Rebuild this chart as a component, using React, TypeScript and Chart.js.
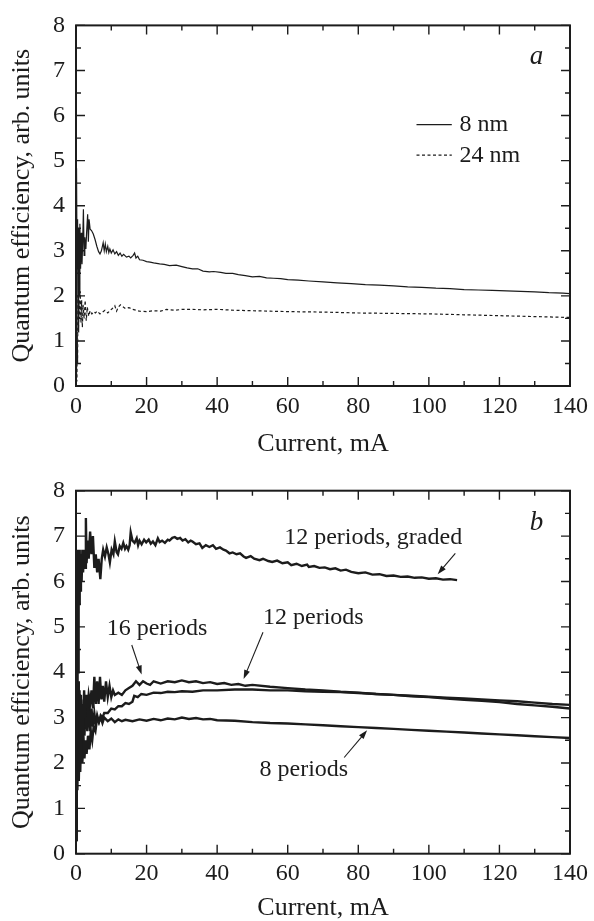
import React, { useEffect, useRef } from "react";
import { Chart, registerables } from "chart.js";

Chart.register(...registerables);

const FONT = "'Liberation Serif', 'Times New Roman', serif";
const INK = "#1c1c1c";

// ---------- axis ticks ----------
const xMajorTicks = [0, 20, 40, 60, 80, 100, 120, 140];
const xMinorTicks = [10, 30, 50, 70, 90, 110, 130];
const yMajorTicks = [0, 1, 2, 3, 4, 5, 6, 7, 8];
const yMinorTicks = [0.5, 1.5, 2.5, 3.5, 4.5, 5.5, 6.5, 7.5];

// ---------- panel a : [current mA, efficiency] ----------
const panelA8nm: [number, number][] = [
  [0, 0.2], [0.1, 2.5], [0.2, 4.83], [0.3, 2.6], [0.45, 3.7], [0.6, 1.2], [0.75, 3.5], [0.9, 2.0],
  [1.1, 3.6], [1.3, 2.6], [1.5, 3.4], [1.7, 2.7], [1.9, 3.2], [2.1, 3.92], [2.3, 2.9], [2.5, 3.3],
  [2.8, 3.04], [3.0, 3.4], [3.3, 3.81], [3.5, 3.2], [3.7, 3.7], [4.0, 3.48], [4.4, 3.45], [4.9, 3.37],
  [5.4, 3.25], [5.9, 3.1], [6.4, 2.98], [6.8, 2.93], [7.2, 3.0], [7.7, 3.18], [8.0, 3.0], [8.3, 3.15],
  [8.6, 2.98], [9.0, 3.1], [9.3, 2.96], [9.6, 3.04], [10, 2.95], [10.5, 3.02], [11, 2.93], [11.5, 2.98],
  [12, 2.9], [12.5, 2.95], [13, 2.88], [13.5, 2.92], [14.3, 2.86], [15, 2.88], [15.5, 2.84], [16.2, 2.9],
  [16.6, 2.95], [17, 2.84], [17.5, 2.88], [18, 2.8], [19, 2.79], [20, 2.76], [21, 2.75], [22, 2.73],
  [23.7, 2.71], [25, 2.7], [26.5, 2.67], [28.4, 2.68], [30, 2.65], [31.5, 2.62], [33, 2.6], [34.5, 2.6],
  [36, 2.55], [37.8, 2.53], [39, 2.54], [41, 2.52], [42.5, 2.5], [44.4, 2.5], [46, 2.47], [48, 2.45],
  [50, 2.42], [52, 2.43], [54, 2.4], [56, 2.39], [58, 2.38], [60, 2.36], [63, 2.35], [66, 2.33],
  [70, 2.31], [74, 2.29], [78, 2.27], [82, 2.25], [86, 2.24], [90, 2.22], [94, 2.2], [98, 2.19],
  [102, 2.17], [106, 2.16], [110, 2.14], [114, 2.13], [118, 2.12], [122, 2.11], [126, 2.1], [130, 2.09],
  [134, 2.07], [138, 2.06], [140, 2.05],
];

const panelA24nm: [number, number][] = [
  [0, 0], [0.15, 0.8], [0.25, 0.1], [0.35, 1.2], [0.45, 0.5], [0.55, 2.0], [0.7, 1.3], [0.85, 1.9],
  [1.0, 1.5], [1.2, 2.1], [1.4, 1.4], [1.6, 1.9], [1.8, 1.3], [2.0, 1.8], [2.3, 1.5], [2.6, 1.9],
  [2.9, 1.45], [3.2, 1.75], [3.6, 1.55], [4.0, 1.67], [4.5, 1.6], [5, 1.65], [5.5, 1.62], [6, 1.66],
  [6.8, 1.6], [7.5, 1.64], [8.2, 1.68], [9, 1.62], [9.6, 1.67], [10.3, 1.72], [11, 1.78], [11.5, 1.66],
  [12, 1.75], [12.6, 1.8], [13.3, 1.76], [14, 1.72], [15, 1.74], [16, 1.7], [17, 1.68], [18, 1.66],
  [20, 1.65], [22, 1.67], [24, 1.66], [25.6, 1.7], [28, 1.68], [30, 1.7], [33, 1.7], [36, 1.69],
  [40, 1.7], [45, 1.68], [50, 1.67], [55, 1.66], [60, 1.65], [70, 1.64], [80, 1.62], [90, 1.61],
  [100, 1.6], [110, 1.58], [120, 1.56], [130, 1.54], [140, 1.52],
];

// ---------- panel b ----------
const panelBGraded: [number, number][] = [
  [0, 0.3], [0.15, 6.7], [0.3, 2.5], [0.45, 6.6], [0.6, 4.0], [0.75, 6.7], [0.9, 5.5], [1.05, 6.7],
  [1.2, 5.8], [1.4, 6.6], [1.6, 6.0], [1.8, 6.7], [2.0, 6.2], [2.3, 6.7], [2.6, 6.3], [2.8, 7.4],
  [3.0, 6.4], [3.3, 6.9], [3.6, 6.5], [4.0, 7.1], [4.4, 6.6], [4.8, 7.0], [5.2, 6.3], [5.6, 6.6],
  [6.0, 6.2], [6.4, 6.5], [6.9, 6.05], [7.3, 6.5], [7.7, 6.7], [8.2, 6.55], [8.7, 6.75], [9.2, 6.6],
  [9.6, 6.42], [10.1, 6.7], [10.6, 6.6], [11, 6.88], [11.5, 6.65], [11.9, 6.6], [12.4, 6.78], [12.9, 6.72],
  [13.4, 6.85], [13.9, 6.72], [14.3, 6.78], [14.8, 6.7], [15.2, 6.8], [15.5, 7.08], [16, 6.9], [16.6, 6.85],
  [17.2, 6.95], [17.6, 6.8], [18, 6.9], [18.6, 6.82], [19.3, 6.92], [19.9, 6.86], [20.6, 6.92], [21.2, 6.83],
  [21.8, 6.88], [22.5, 6.8], [23.2, 6.95], [23.7, 6.87], [24.4, 6.9], [25.2, 6.85], [26, 6.92], [26.5, 6.9],
  [27.3, 6.96], [28, 6.98], [28.7, 6.94], [29.5, 6.96], [30.2, 6.9], [31, 6.93], [31.8, 6.86], [32.5, 6.9],
  [33, 6.88], [34, 6.82], [35, 6.84], [35.8, 6.74], [36.8, 6.8], [37.8, 6.76], [38.8, 6.8], [39.7, 6.72],
  [40.8, 6.75], [41.8, 6.7], [42.5, 6.68], [43.5, 6.62], [44.4, 6.64], [45.5, 6.6], [46.5, 6.62], [47.5, 6.55],
  [48.2, 6.52], [49.5, 6.56], [50.5, 6.5], [52, 6.47], [53, 6.5], [54.5, 6.45], [55.6, 6.43], [57, 6.46],
  [58.5, 6.4], [60, 6.42], [61, 6.36], [62.5, 6.39], [64, 6.34], [65.5, 6.37], [66, 6.32], [67.5, 6.34],
  [69, 6.3], [70.5, 6.31], [72, 6.27], [73.5, 6.29], [75, 6.24], [76.5, 6.26], [78, 6.21], [80, 6.18],
  [82, 6.2], [84, 6.15], [86, 6.16], [88, 6.12], [90, 6.13], [92, 6.1], [94, 6.11], [96, 6.08],
  [98, 6.09], [100, 6.06], [102, 6.07], [104, 6.04], [106, 6.05], [108, 6.03],
];

const panelB16: [number, number][] = [
  [0, 1.5], [0.2, 3.2], [0.4, 2.0], [0.6, 3.6], [0.8, 2.4], [1.0, 3.4], [1.2, 2.2], [1.4, 3.5],
  [1.6, 2.5], [1.8, 3.3], [2.0, 2.6], [2.3, 3.6], [2.6, 3.0], [3.0, 3.5], [3.3, 3.2], [3.6, 3.5],
  [4.0, 3.3], [4.4, 3.6], [4.8, 3.2], [5.2, 3.9], [5.6, 3.3], [6.0, 3.8], [6.4, 3.3], [6.8, 3.9],
  [7.2, 3.4], [7.6, 3.7], [8.0, 3.35], [8.5, 3.8], [9.0, 3.45], [9.5, 3.7], [10, 3.45], [10.5, 3.6],
  [11, 3.5], [12, 3.55], [13, 3.5], [14, 3.6], [15, 3.65], [16, 3.7], [17, 3.8], [18, 3.72],
  [19, 3.8], [20, 3.75], [21, 3.72], [22, 3.8], [24, 3.75], [26, 3.8], [28, 3.78], [30, 3.82],
  [32, 3.78], [34, 3.8], [36, 3.76], [38, 3.78], [40, 3.74], [42, 3.76], [44, 3.72], [46, 3.74],
  [48, 3.7], [50, 3.72], [55, 3.68], [60, 3.65], [65, 3.62], [70, 3.6], [75, 3.57], [80, 3.55],
  [85, 3.52], [90, 3.5], [95, 3.47], [100, 3.45], [105, 3.42], [110, 3.39], [115, 3.37], [120, 3.34],
  [125, 3.3], [130, 3.27], [135, 3.24], [140, 3.2],
];

const panelB12: [number, number][] = [
  [0, 0.5], [0.2, 2.8], [0.4, 1.4], [0.6, 3.0], [0.8, 1.6], [1.0, 2.6], [1.2, 1.8], [1.5, 2.8],
  [1.8, 2.0], [2.1, 2.6], [2.4, 2.1], [2.7, 2.5], [3.0, 2.2], [3.4, 2.6], [3.8, 2.3], [4.2, 2.7],
  [4.6, 2.5], [5.0, 2.8], [5.5, 2.7], [6.0, 3.0], [6.5, 2.9], [7.0, 3.05], [7.5, 3.0], [8, 3.1],
  [9, 3.1], [10, 3.2], [11, 3.18], [12, 3.25], [13, 3.25], [14, 3.32], [15, 3.3], [16, 3.35],
  [16.5, 3.48], [17.5, 3.45], [18.5, 3.52], [20, 3.5], [22, 3.55], [24, 3.54], [26, 3.57], [28, 3.56],
  [30, 3.58], [33, 3.57], [36, 3.6], [40, 3.6], [45, 3.62], [50, 3.62], [55, 3.6], [60, 3.6],
  [65, 3.58], [70, 3.57], [75, 3.56], [80, 3.54], [85, 3.52], [90, 3.5], [95, 3.48], [100, 3.46],
  [105, 3.44], [110, 3.42], [115, 3.4], [120, 3.38], [125, 3.36], [130, 3.33], [135, 3.3], [140, 3.28],
];

const panelB8: [number, number][] = [
  [0, 0.3], [0.2, 3.5], [0.4, 1.8], [0.6, 3.8], [0.8, 2.2], [1.0, 3.6], [1.2, 2.0], [1.5, 3.4],
  [1.8, 2.4], [2.1, 3.2], [2.4, 2.6], [2.8, 3.4], [3.2, 2.7], [3.6, 3.3], [4.0, 2.7], [4.4, 3.2],
  [4.8, 2.8], [5.2, 3.1], [5.6, 2.85], [6.0, 3.05], [6.5, 2.9], [7, 3.0], [7.5, 2.88], [8, 3.0],
  [9, 2.92], [10, 2.98], [11, 2.9], [12, 2.96], [13, 2.92], [14, 2.95], [16, 2.92], [18, 2.96],
  [20, 2.93], [22, 2.97], [24, 2.94], [26, 2.98], [28, 2.96], [30, 3.0], [32, 2.97], [34, 2.99],
  [36, 2.96], [38, 2.97], [40, 2.94], [45, 2.93], [50, 2.9], [55, 2.88], [60, 2.87], [65, 2.85],
  [70, 2.83], [75, 2.81], [80, 2.79], [85, 2.77], [90, 2.75], [95, 2.73], [100, 2.71], [105, 2.69],
  [110, 2.67], [115, 2.65], [120, 2.63], [125, 2.61], [130, 2.59], [135, 2.57], [140, 2.55],
];

// ---------- labels ----------
const xTitle = "Current, mA";
const yTitle = "Quantum efficiency, arb.\u2009units";
const legendLabels = ["8 nm", "24 nm"];

type Note = { text: string; x: number; y: number; from?: [number, number]; to?: [number, number] };
const panelBNotes: Note[] = [
  { text: "12 periods, graded", x: 59, y: 6.97, from: [107.5, 6.62], to: [102.5, 6.16] },
  { text: "16 periods", x: 8.7, y: 4.95, from: [15.8, 4.6], to: [18.6, 3.95] },
  { text: "12 periods", x: 53, y: 5.2, from: [53, 4.88], to: [47.5, 3.85] },
  { text: "8 periods", x: 52, y: 1.85, from: [76, 2.12], to: [82.5, 2.72] },
];

function drawArrow(ctx: CanvasRenderingContext2D, x1: number, y1: number, x2: number, y2: number) {
  const ang = Math.atan2(y2 - y1, x2 - x1);
  const len = 9, half = 3;
  ctx.beginPath();
  ctx.moveTo(x1, y1);
  ctx.lineTo(x2 - Math.cos(ang) * len * 0.8, y2 - Math.sin(ang) * len * 0.8);
  ctx.stroke();
  ctx.beginPath();
  ctx.moveTo(x2, y2);
  ctx.lineTo(x2 - Math.cos(ang) * len - Math.sin(ang) * half, y2 - Math.sin(ang) * len + Math.cos(ang) * half);
  ctx.lineTo(x2 - Math.cos(ang) * len + Math.sin(ang) * half, y2 - Math.sin(ang) * len - Math.cos(ang) * half);
  ctx.closePath();
  ctx.fill();
}

const frameTicksPlugin = {
  id: "frameTicks",
  afterDatasetsDraw(chart: any) {
    const { ctx, chartArea: a, scales } = chart;
    const xs = scales.x, ys = scales.y;
    ctx.save();
    ctx.strokeStyle = INK;
    ctx.lineWidth = 1.4;
    const vt = (v: number, len: number) => {
      const p = xs.getPixelForValue(v);
      ctx.beginPath();
      ctx.moveTo(p, a.bottom); ctx.lineTo(p, a.bottom - len);
      ctx.moveTo(p, a.top); ctx.lineTo(p, a.top + len);
      ctx.stroke();
    };
    const ht = (v: number, len: number) => {
      const p = ys.getPixelForValue(v);
      ctx.beginPath();
      ctx.moveTo(a.left, p); ctx.lineTo(a.left + len, p);
      ctx.moveTo(a.right, p); ctx.lineTo(a.right - len, p);
      ctx.stroke();
    };
    xMajorTicks.forEach((v) => vt(v, 9));
    xMinorTicks.forEach((v) => vt(v, 5));
    yMajorTicks.forEach((v) => ht(v, 9));
    yMinorTicks.forEach((v) => ht(v, 5));
    ctx.lineWidth = 2;
    ctx.strokeRect(a.left, a.top, a.right - a.left, a.bottom - a.top);
    ctx.restore();
  },
};

function makePanelPlugin(panel: "a" | "b") {
  return {
    id: "panelNotes" + panel,
    afterDraw(chart: any) {
      const { ctx, scales } = chart;
      const xs = scales.x, ys = scales.y;
      const px = (v: number) => xs.getPixelForValue(v);
      const py = (v: number) => ys.getPixelForValue(v);
      ctx.save();
      ctx.fillStyle = INK;
      ctx.strokeStyle = INK;
      ctx.textBaseline = "middle";
      ctx.font = `italic 27px ${FONT}`;
      ctx.textAlign = "center";
      ctx.fillText(panel, px(130.5), py(7.3));
      ctx.textAlign = "left";
      ctx.font = `24px ${FONT}`;
      if (panel === "a") {
        ctx.lineWidth = 1.2;
        ctx.beginPath();
        ctx.moveTo(px(96.5), py(5.8)); ctx.lineTo(px(106.5), py(5.8));
        ctx.stroke();
        ctx.setLineDash([3, 2.5]);
        ctx.beginPath();
        ctx.moveTo(px(96.5), py(5.12)); ctx.lineTo(px(106.5), py(5.12));
        ctx.stroke();
        ctx.setLineDash([]);
        ctx.fillText(legendLabels[0], px(108.7), py(5.8));
        ctx.fillText(legendLabels[1], px(108.7), py(5.12));
      } else {
        ctx.lineWidth = 1.1;
        panelBNotes.forEach((n) => {
          ctx.fillText(n.text, px(n.x), py(n.y));
          if (n.from && n.to) drawArrow(ctx, px(n.from[0]), py(n.from[1]), px(n.to[0]), py(n.to[1]));
        });
      }
      ctx.restore();
    },
  };
}

function buildOptions(padTop: number, xAxisHeight: number, titlePadBottom: number) {
  return {
    responsive: false,
    animation: false as const,
    layout: { padding: { top: padTop, right: 22.3, left: 0, bottom: 0 } },
    plugins: { legend: { display: false }, tooltip: { enabled: false } },
    elements: { point: { radius: 0 }, line: { tension: 0 } },
    scales: {
      x: {
        type: "linear" as const,
        min: 0,
        max: 140,
        afterBuildTicks: (s: any) => { s.ticks = xMajorTicks.map((v) => ({ value: v })); },
        afterFit: (s: any) => { s.height = xAxisHeight; },
        grid: { display: false, drawTicks: false },
        border: { display: false },
        ticks: { font: { family: FONT, size: 24 }, color: INK, padding: 6, maxRotation: 0 },
        title: {
          display: true,
          text: xTitle,
          font: { family: FONT, size: 26, lineHeight: 1 },
          color: INK,
          padding: { top: 0, bottom: titlePadBottom },
        },
      },
      y: {
        type: "linear" as const,
        min: 0,
        max: 8,
        afterBuildTicks: (s: any) => { s.ticks = yMajorTicks.map((v) => ({ value: v })); },
        afterFit: (s: any) => { s.width = 76; },
        grid: { display: false, drawTicks: false },
        border: { display: false },
        ticks: { font: { family: FONT, size: 24 }, color: INK, padding: 11 },
        title: {
          display: true,
          text: yTitle,
          font: { family: FONT, size: 26, lineHeight: 1 },
          color: INK,
          padding: { top: 9, bottom: 0 },
        },
      },
    },
  };
}

function lineDs(data: [number, number][], width: number, dash?: number[]) {
  return {
    data,
    borderColor: INK,
    borderWidth: width,
    borderDash: dash || [],
    pointRadius: 0,
    fill: false,
  };
}

export default function App() {
  const refA = useRef<HTMLCanvasElement | null>(null);
  const refB = useRef<HTMLCanvasElement | null>(null);

  useEffect(() => {
    document.body.style.margin = "0";
    const chartA = new Chart(refA.current as HTMLCanvasElement, {
      type: "line",
      data: {
        datasets: [lineDs(panelA8nm, 1.2), lineDs(panelA24nm, 1.2, [3, 2.5])],
      },
      options: buildOptions(22.7, 72, 1) as any,
      plugins: [frameTicksPlugin, makePanelPlugin("a")],
    });
    const chartB = new Chart(refB.current as HTMLCanvasElement, {
      type: "line",
      data: {
        datasets: [
          lineDs(panelBGraded, 2.4),
          lineDs(panelB16, 2.4),
          lineDs(panelB12, 2.4),
          lineDs(panelB8, 2.4),
        ],
      },
      options: buildOptions(32.7, 67.3, 0) as any,
      plugins: [frameTicksPlugin, makePanelPlugin("b")],
    });
    return () => {
      chartA.destroy();
      chartB.destroy();
    };
  }, []);

  return (
    <div style={{ width: 594, background: "#fff" }}>
      <canvas ref={refA} width={594} height={458} style={{ display: "block" }} />
      <canvas ref={refB} width={594} height={463} style={{ display: "block" }} />
    </div>
  );
}
